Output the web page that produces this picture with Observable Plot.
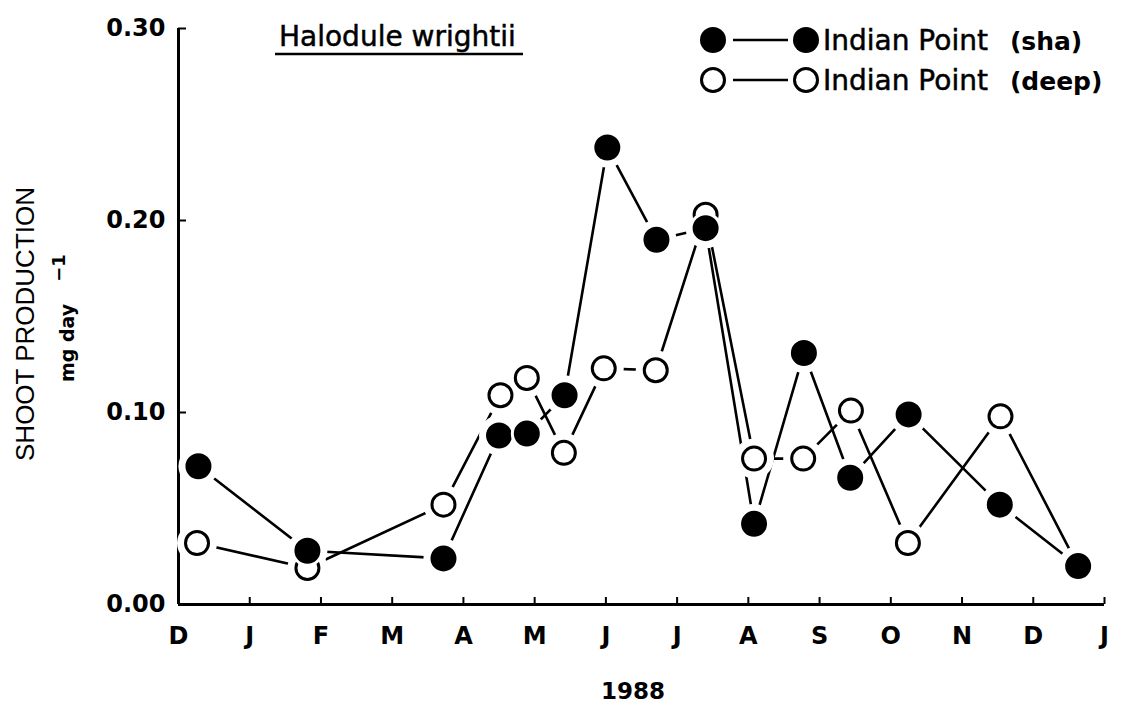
<!DOCTYPE html>
<html>
<head>
<meta charset="utf-8">
<script src="https://cdn.jsdelivr.net/npm/d3@7"></script>
<script src="https://cdn.jsdelivr.net/npm/@observablehq/plot@0.6"></script>
<style>
  html, body { margin: 0; padding: 0; background: #fff; }
  #chart { width: 1122px; height: 707px; }
</style>
</head>
<body>
<div id="chart"></div>
<script>
// ---- data (x in months since 1 Dec 1987) ----
const monthPositions = [0, 1, 2, 3, 4, 5, 6, 7, 8, 9, 10, 11, 12, 13];
const monthLabels = ["D", "J", "F", "M", "A", "M", "J", "J", "A", "S", "O", "N", "D", "J"];
const yTicks = [0, 0.10, 0.20, 0.30];

const shaMonth = [0.28, 1.81, 3.72, 4.50, 4.89, 5.42, 6.02, 6.71, 7.40, 8.08, 8.78, 9.43, 10.25, 11.53, 12.63];
const shaValue = [0.072, 0.028, 0.024, 0.088, 0.089, 0.109, 0.238, 0.190, 0.196, 0.042, 0.131, 0.066, 0.099, 0.052, 0.020];

const deepMonth = [0.26, 1.81, 3.72, 4.52, 4.89, 5.41, 5.97, 6.70, 7.40, 8.08, 8.77, 9.44, 10.24, 11.54, 12.63];
const deepValue = [0.032, 0.019, 0.052, 0.109, 0.118, 0.079, 0.123, 0.122, 0.203, 0.076, 0.076, 0.101, 0.032, 0.098, 0.020];

const seriesNames = ["Indian Point", "Indian Point"];
const seriesTags = ["(sha)", "(deep)"];
const titleText = "Halodule wrightii";
const yTitle = "SHOOT PRODUCTION";
const yUnit = "mg day";
const yUnitExp = "\u22121";
const xTitle = "1988";

// ---- build tables ----
const sha = shaMonth.map((m, i) => ({m, v: shaValue[i]}));
const deep = deepMonth.map((m, i) => ({m, v: deepValue[i]}));
const both = deep.concat(sha);

const FONT = "DejaVu Sans";

const chart = Plot.plot({
  width: 1122,
  height: 707,
  marginLeft: 178,
  marginRight: 18,
  marginTop: 28,
  marginBottom: 103,
  x: {domain: [0, 13]},
  y: {domain: [0, 0.30]},
  style: {background: "white", color: "black", fontFamily: FONT, overflow: "visible"},
  marks: [
    Plot.axisX({ticks: monthPositions, tickSize: -7, strokeWidth: 2, tickPadding: 29,
      tickFormat: (i) => monthLabels[i], fontSize: 24, fontWeight: "bold", label: null}),
    Plot.axisY({ticks: yTicks, tickSize: -8, strokeWidth: 2, tickPadding: 21,
      tickFormat: d3.format(".2f"), fontSize: 24, fontWeight: "bold", label: null}),
    Plot.ruleY([0], {strokeWidth: 3}),
    Plot.ruleX([0], {strokeWidth: 3}),
    Plot.line(deep, {x: "m", y: "v", strokeWidth: 2.6, stroke: "black"}),
    Plot.line(sha, {x: "m", y: "v", strokeWidth: 2.6, stroke: "black"}),
    // white halos so the connecting lines stop short of the symbols
    Plot.dot(both, {x: "m", y: "v", r: 20, fill: "white", fillOpacity: 1, stroke: null}),
    Plot.dot(deep, {x: "m", y: "v", r: 11.5, fill: "white", stroke: "black", strokeWidth: 3}),
    Plot.dot(sha, {x: "m", y: "v", r: 14.5, fill: "black", stroke: "white", strokeWidth: 3})
  ]
});

document.getElementById("chart").appendChild(chart);

// ---- annotations: title, legend, axis titles ----
const svg = d3.select(chart);
const g = svg.append("g").attr("fill", "black").attr("text-anchor", "start");

// title with underline
g.append("text").attr("x", 279).attr("y", 46)
  .attr("font-family", FONT).attr("font-size", 28).attr("stroke", "black").attr("stroke-width", 0.5)
  .text(titleText);
g.append("line").attr("x1", 275).attr("x2", 523).attr("y1", 54).attr("y2", 54)
  .attr("stroke", "black").attr("stroke-width", 2.5);

// legend
const legendRows = [
  {y: 40, filled: true, name: seriesNames[0], tag: seriesTags[0]},
  {y: 80, filled: false, name: seriesNames[1], tag: seriesTags[1]}
];
legendRows.forEach((row) => {
  g.append("line").attr("x1", 733).attr("x2", 788).attr("y1", row.y).attr("y2", row.y)
    .attr("stroke", "black").attr("stroke-width", 2.5);
  [713, 806].forEach((cx) => {
    g.append("circle").attr("cx", cx).attr("cy", row.y)
      .attr("r", row.filled ? 13 : 11.5)
      .attr("fill", row.filled ? "black" : "white")
      .attr("stroke", row.filled ? "none" : "black")
      .attr("stroke-width", 3);
  });
  const t = g.append("text").attr("x", 823).attr("y", row.y + 10)
    .attr("font-family", FONT).attr("font-size", 28).attr("stroke", "black").attr("stroke-width", 0.5);
  t.append("tspan").text(row.name);
  t.append("tspan").attr("dx", 22).attr("font-size", 25).attr("font-weight", "bold")
    .attr("stroke-width", 0).text(row.tag);
});

// y-axis title
g.append("text").attr("transform", "translate(34,324) rotate(-90)")
  .attr("text-anchor", "middle").attr("font-family", "Liberation Sans")
  .attr("font-size", 26).text(yTitle);
const unit = g.append("text").attr("transform", "translate(74,382) rotate(-90)")
  .attr("text-anchor", "start")
  .attr("font-family", FONT).attr("font-size", 19).attr("font-weight", "bold");
unit.append("tspan").text(yUnit);
unit.append("tspan").attr("dx", 22).attr("dy", -9).attr("font-size", 18).text(yUnitExp);

// x-axis title
g.append("text").attr("x", 633).attr("y", 699).attr("text-anchor", "middle")
  .attr("font-family", FONT).attr("font-size", 23).attr("font-weight", "bold").text(xTitle);
</script>
</body>
</html>
